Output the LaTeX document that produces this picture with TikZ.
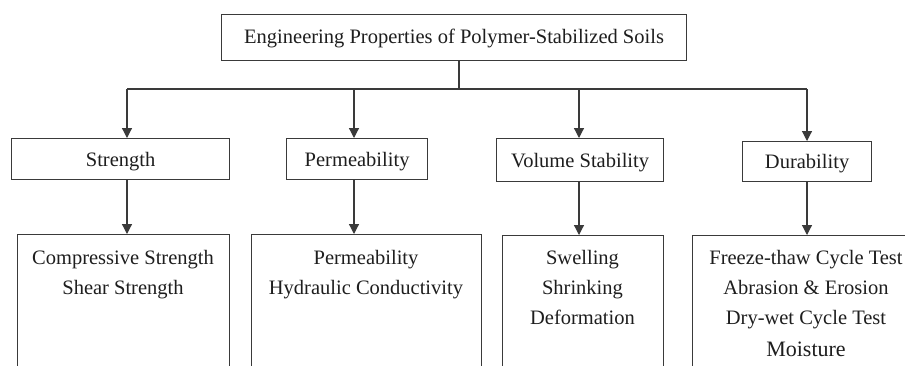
\documentclass[tikz,border=0pt]{standalone}
\usepackage{fontspec}
\setmainfont{Liberation Serif}
\usetikzlibrary{arrows.meta}
\definecolor{inkline}{HTML}{3A3A3A}
\definecolor{inktext}{HTML}{1E1E1E}
\begin{document}
\begin{tikzpicture}[x=1pt,y=-1pt,
  box/.style={draw=inkline,line width=1.2pt,rectangle,inner sep=0pt,anchor=north west},
  lbl/.style={text=inktext,font=\fontsize{20.5}{30}\selectfont,align=center,inner sep=0pt},
  link/.style={draw=inkline,line width=1.2pt},
  arr/.style={link,-{Triangle[width=10pt,length=10pt]}}]
\useasboundingbox (0,0) rectangle (905,365);
\clip (0,0) rectangle (905,365);
\fill[white] (0,0) rectangle (905,365);

% top box
\node[box,minimum width=465pt,minimum height=46pt] (root) at (221,14) {};
\node[lbl,yshift=-1pt] at (root.center) {Engineering Properties of Polymer-Stabilized Soils};

% property boxes
\node[box,minimum width=218pt,minimum height=41pt] (str) at (11,138) {};
\node[box,minimum width=141pt,minimum height=41pt] (per) at (286,138) {};
\node[box,minimum width=167pt,minimum height=43pt] (vol) at (496,138) {};
\node[box,minimum width=129pt,minimum height=40pt] (dur) at (742,141) {};
\node[lbl,yshift=-2pt] at (str.center) {Strength};
\node[lbl,yshift=-2pt] at (per.center) {Permeability};
\node[lbl,yshift=-2pt] at (vol.center) {Volume Stability};
\node[lbl,yshift=-2pt] at (dur.center) {Durability};

% detail boxes (run past the lower edge)
\node[box,minimum width=212pt,minimum height=160pt] (strD) at (17,234) {};
\node[box,minimum width=230pt,minimum height=160pt] (perD) at (251,234) {};
\node[box,minimum width=161pt,minimum height=160pt] (volD) at (502,235) {};
\node[box,minimum width=230pt,minimum height=160pt] (durD) at (692,235) {};
\node[lbl,anchor=north] at (123,250) {Compressive Strength\\Shear Strength};
\node[lbl,anchor=north] at (366,250) {Permeability\\Hydraulic Conductivity};
\node[lbl,anchor=north] at (582.5,250) {Swelling\\Shrinking\\Deformation};
\node[lbl,anchor=north] at (806,250) {Freeze-thaw Cycle Test\\Abrasion \& Erosion\\Dry-wet Cycle Test\\[2pt]{\fontsize{22}{30}\selectfont Moisture}};

% connectors
\coordinate (bus) at (459,89);
\coordinate (busL) at (127,89);
\coordinate (busR) at (807,89);
\draw[link] (root.south -| bus) -- (bus);
\draw[link] (busL) -- (busR);
\draw[arr] (busL) -- (busL |- str.north);
\draw[arr] (354,89) -- (354,138);
\draw[arr] (579,89) -- (579,138);
\draw[arr] (busR) -- (busR |- dur.north);
\draw[arr] (127,179) -- (127,234);
\draw[arr] (354,179) -- (354,234);
\draw[arr] (579,181) -- (579,235);
\draw[arr] (807,181) -- (807,235);
\end{tikzpicture}
\end{document}
